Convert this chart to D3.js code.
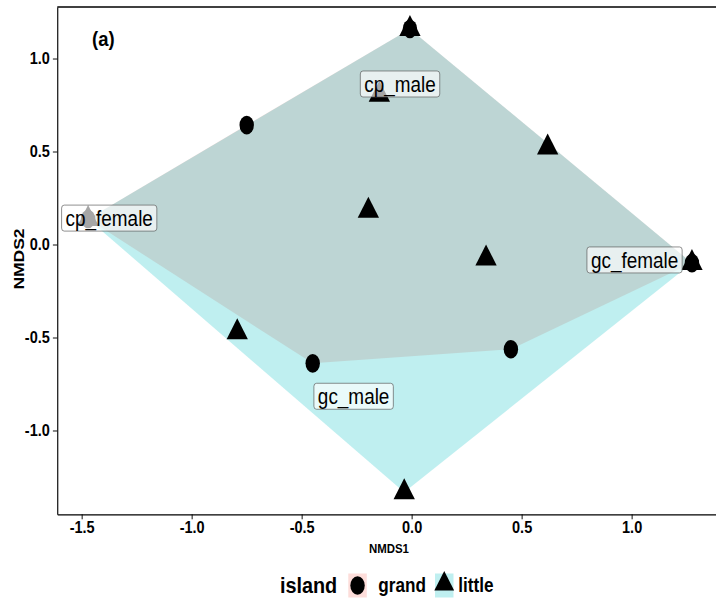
<!DOCTYPE html>
<html>
<head>
<meta charset="utf-8">
<script src="https://cdn.jsdelivr.net/npm/d3@7"></script>
<style>
  body { margin: 0; background: #fff; }
  text { font-family: "Liberation Sans", Arial, sans-serif; }
</style>
</head>
<body>
<svg width="716" height="603"></svg>
<script>
// NMDS scores
var grandX = [-1.471, -0.750, -0.008, 1.274, 0.451, -0.450];
var grandY = [0.137, 0.642, 1.159, -0.100, -0.563, -0.639];
var littleX = [-1.471, -0.008, -0.147, 0.618, -0.197, 0.338, 1.274, -0.793, -0.034];
var littleY = [0.137, 1.159, 0.805, 0.522, 0.182, -0.075, -0.100, -0.472, -1.332];
var labelNames = ["cp_female", "cp_male", "gc_female", "gc_male"];
var labelX = [-1.375, -0.053, 1.013, -0.264];
var labelY = [0.142, 0.863, -0.083, -0.816];
var xTicks = [-1.5, -1.0, -0.5, 0.0, 0.5, 1.0];
var yTicks = [-1.0, -0.5, 0.0, 0.5, 1.0];
var islands = ["grand", "little"];
var colors = ["#F8766D", "#00BFC4"];

// the picture is squeezed sideways, so draw in a wider space and shrink x
var sx = 0.88;

var xScale = d3.scaleLinear()
                .domain([-1.611, 1.406])
                .range([57.3 / sx, 721 / sx]);
var yScale = d3.scaleLinear()
                .domain([-1.4506, 1.277])
                .range([514.3, 7]);

var svg = d3.select("svg");
var g = svg.append("g").attr("transform", "scale(" + sx + ",1)");

var grand = grandX.map((x, i) => [x, grandY[i]]);
var little = littleX.map((x, i) => [x, littleY[i]]);

// convex hulls
[grand, little].forEach(function(pts, k) {
  var hull = d3.polygonHull(pts.map(p => [xScale(p[0]), yScale(p[1])]));
  g.append("path")
    .attr("d", "M" + hull.join("L") + "Z")
    .attr("fill", colors[k])
    .attr("fill-opacity", 0.25);
});

// frame: top line, axes
g.append("line")
  .attr("x1", xScale.range()[0]).attr("x2", xScale.range()[1])
  .attr("y1", 7).attr("y2", 7)
  .attr("stroke", "#000").attr("stroke-width", 1.6);

var fmt = d => d.toFixed(1);

var xAxis = g.append("g")
  .attr("transform", "translate(0,514.3)")
  .call(d3.axisBottom(xScale).tickValues(xTicks).tickFormat(fmt).tickSize(5).tickSizeOuter(0).tickPadding(1.5));
var yAxis = g.append("g")
  .attr("transform", "translate(" + xScale.range()[0] + ",0)")
  .call(d3.axisLeft(yScale).tickValues(yTicks).tickFormat(fmt).tickSize(5).tickSizeOuter(0).tickPadding(3.5));

[xAxis, yAxis].forEach(function(ax) {
  ax.attr("font-size", 16.5).attr("font-weight", "bold")
    .attr("font-family", "'Liberation Sans', Arial, sans-serif");
  ax.select(".domain").attr("stroke", "#000").attr("stroke-width", 1.3);
  ax.selectAll(".tick line").attr("stroke", "#000").attr("stroke-width", 1);
  ax.selectAll(".tick text")
    .attr("fill", "#000")
    .style("font-size", "16.5px")
    .style("font-weight", "bold");
});

// points
var tri = d3.symbol().type(d3.symbolTriangle).size(254);

g.selectAll(".grand")
  .data(grand)
  .enter()
  .append("ellipse")
    .classed("grand", true)
    .attr("cx", d => xScale(d[0]))
    .attr("cy", d => yScale(d[1]))
    .attr("rx", 8.2)
    .attr("ry", 9.3)
    .attr("fill", "#000");

g.selectAll(".little")
  .data(little)
  .enter()
  .append("path")
    .classed("little", true)
    .attr("d", tri)
    .attr("transform", d => "translate(" + xScale(d[0]) + "," + yScale(d[1]) + ")")
    .attr("fill", "#000");

// sample labels
var labels = g.selectAll(".lab")
  .data(labelNames)
  .enter()
  .append("g")
    .classed("lab", true)
    .attr("transform", (d, i) => "translate(" + xScale(labelX[i]) + "," + yScale(labelY[i]) + ")");

labels.append("rect");
labels.append("text")
  .text(d => d)
  .attr("text-anchor", "middle")
  .attr("dy", "0.36em")
  .style("font-size", "21.5px")
  .attr("fill", "#000");

labels.each(function() {
  var el = d3.select(this);
  var w = el.select("text").node().getComputedTextLength();
  el.select("rect")
    .attr("x", -w / 2 - 4.5)
    .attr("y", -13)
    .attr("width", w + 9)
    .attr("height", 26)
    .attr("rx", 3)
    .attr("fill", "#fff")
    .attr("fill-opacity", 0.65)
    .attr("stroke", "#555")
    .attr("stroke-width", 0.7);
});

// titles
g.append("text")
  .attr("x", 117.4).attr("y", 46)
  .attr("text-anchor", "middle")
  .style("font-size", "21px").style("font-weight", "bold")
  .text("(a)");

g.append("text")
  .attr("x", 442).attr("y", 552.7)
  .attr("text-anchor", "middle")
  .style("font-size", "13px").style("font-weight", "bold")
  .text("NMDS1");

g.append("text")
  .attr("transform", "translate(" + (24 / sx) + ",259) rotate(-90)")
  .attr("text-anchor", "middle")
  .style("font-size", "17.5px").style("font-weight", "bold")
  .text("NMDS2");

// legend
var leg = g.append("g");
leg.append("text")
  .attr("x", 280 / sx).attr("y", 593)
  .style("font-size", "22.5px").style("font-weight", "bold")
  .text("island");

var keyX = [348.3, 435];
var textX = [378.3, 458.3];
islands.forEach(function(name, k) {
  var kx = keyX[k] / sx;
  leg.append("rect")
    .attr("x", kx).attr("y", 573.5)
    .attr("width", 21).attr("height", 24)
    .attr("fill", colors[k]).attr("fill-opacity", 0.25);
  if (k === 0) {
    leg.append("ellipse")
      .attr("cx", kx + 10.5).attr("cy", 585.5)
      .attr("rx", 8.2).attr("ry", 9.3).attr("fill", "#000");
  } else {
    leg.append("path")
      .attr("d", d3.symbol().type(d3.symbolTriangle).size(220))
      .attr("transform", "translate(" + (kx + 10.5) + ",584)")
      .attr("fill", "#000");
  }
  leg.append("text")
    .attr("x", textX[k] / sx).attr("y", 592)
    .style("font-size", "19.5px").style("font-weight", "bold")
    .text(name);
});
</script>
</body>
</html>
